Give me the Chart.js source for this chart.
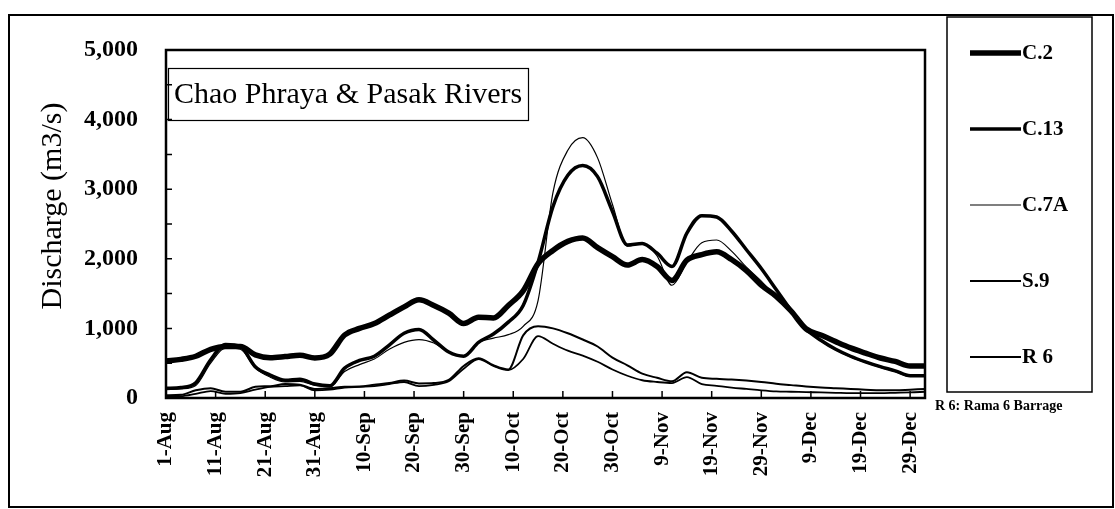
<!DOCTYPE html>
<html>
<head>
<meta charset="utf-8">
<script src="https://cdn.jsdelivr.net/npm/chart.js@4.4.1/dist/chart.umd.min.js"></script>
<style>
  html, body { margin: 0; padding: 0; background: #fff; }
  #wrap { width: 1115px; height: 509px; }
</style>
</head>
<body>
<div id="wrap"><canvas id="dischargeChart" width="1115" height="509"></canvas></div>
<script>
// Day number counted from 1-Aug (0) to 31-Dec (153)
const days = [0, 3, 6, 9, 12, 15, 18, 21, 24, 27, 30, 33, 36, 39, 42, 45, 48, 51, 54, 57,
    60, 63, 66, 69, 72, 75, 78, 81, 84, 87, 90, 93, 96, 99, 102, 105, 108, 111, 114, 117,
    120, 123, 126, 129, 132, 135, 138, 141, 144, 147, 150, 153];

const xTickLabels = ['1-Aug', '11-Aug', '21-Aug', '31-Aug', '10-Sep', '20-Sep', '30-Sep', '10-Oct',
    '20-Oct', '30-Oct', '9-Nov', '19-Nov', '29-Nov', '9-Dec', '19-Dec', '29-Dec'];

const seriesNames = ['C.2', 'C.13', 'C.7A', 'S.9', 'R 6'];

// Discharge (m3/s)
const c2 = [530, 555, 600, 700, 740, 740, 620, 580, 595, 615,
    575, 630, 905, 1000, 1070, 1190, 1310, 1410, 1330, 1220,
    1070, 1160, 1150, 1330, 1540, 1930, 2120, 2250, 2300, 2160,
    2030, 1910, 1990, 1890, 1690, 1980, 2060, 2100, 1990, 1830,
    1620, 1460, 1250, 995, 905, 810, 720, 645, 575, 525,
    460, 460];
const c13 = [140, 150, 220, 550, 770, 740, 450, 330, 255, 270,
    200, 175, 430, 540, 600, 760, 930, 985, 830, 660,
    600, 800, 920, 1090, 1330, 1950, 2750, 3200, 3340, 3180,
    2680, 2200, 2220, 2080, 1890, 2370, 2620, 2600, 2400, 2130,
    1860, 1560, 1260, 990, 830, 700, 600, 520, 450, 390,
    320, 320];
const c7a = [120, 130, 180, 500, 720, 700, 430, 300, 230, 240,
    180, 160, 380, 480, 560, 700, 800, 840, 790, 660,
    610, 800, 860, 910, 1030, 1400, 2950, 3560, 3740, 3450,
    2780, 2180, 2220, 2040, 1620, 1950, 2230, 2270, 2110, 1880,
    1680, 1450, 1220, 990, 820, 690, 590, 510, 440, 380,
    310, 310];
const s9 = [40, 45, 110, 140, 90, 90, 160, 170, 200, 190,
    130, 140, 160, 165, 190, 215, 250, 210, 215, 260,
    460, 570, 470, 410, 900, 1030, 1000, 930, 840, 740,
    580, 470, 350, 290, 240, 370, 290, 275, 265, 250,
    230, 205, 185, 165, 150, 140, 130, 120, 110, 110,
    120, 130];
const r6 = [20, 25, 60, 100, 60, 70, 120, 160, 170, 180,
    110, 120, 150, 160, 170, 200, 230, 170, 190, 240,
    420, 560, 460, 400, 560, 890, 780, 680, 610, 520,
    410, 320, 255, 230, 215, 300, 200, 175, 150, 130,
    110, 95, 90, 85, 80, 75, 70, 70, 70, 75,
    80, 90];

const seriesValues = [c2, c13, c7a, s9, r6];
const lineWidths = [5.5, 3.5, 1.2, 2, 1.8];

const serif = "'Liberation Serif', 'Times New Roman', serif";

// Frame, inward ticks, axis title, title box and legend box
const decorations = {
    id: 'decorations',
    afterDraw(chart) {
        const ctx = chart.ctx;
        const area = chart.chartArea;
        const xScale = chart.scales.x;
        const yScale = chart.scales.y;
        ctx.save();
        ctx.strokeStyle = '#000';
        ctx.fillStyle = '#000';

        // outer frame
        ctx.lineWidth = 2;
        ctx.strokeRect(9, 15, 1104, 492);

        // plot frame
        ctx.lineWidth = 2.5;
        ctx.strokeRect(area.left, area.top, area.right - area.left, area.bottom - area.top);

        // inward tick marks
        ctx.lineWidth = 1.5;
        ctx.beginPath();
        for (let v = 500; v < 5000; v += 500) {
            const y = yScale.getPixelForValue(v);
            ctx.moveTo(area.left, y);
            ctx.lineTo(area.left + 6, y);
        }
        xTickLabels.forEach((_, i) => {
            const x = xScale.getPixelForValue(i * 10);
            ctx.moveTo(x, area.bottom);
            ctx.lineTo(x, area.bottom - 7);
        });
        ctx.stroke();

        // y axis title
        ctx.save();
        ctx.translate(53, 206);
        ctx.rotate(-Math.PI / 2);
        ctx.font = '30px ' + serif;
        ctx.textAlign = 'center';
        ctx.textBaseline = 'middle';
        ctx.fillText('Discharge (m3/s)', 0, 0);
        ctx.restore();

        // title box
        ctx.lineWidth = 1.2;
        ctx.strokeRect(168.5, 68.5, 360, 52);
        ctx.font = '30px ' + serif;
        ctx.textBaseline = 'middle';
        ctx.textAlign = 'left';
        ctx.fillText('Chao Phraya & Pasak Rivers', 174, 95);

        // legend box
        ctx.lineWidth = 1.5;
        ctx.strokeRect(947, 17, 145, 375);
        chart.data.datasets.forEach((ds, i) => {
            const y = 53 + i * 76;
            ctx.lineWidth = ds.borderWidth;
            ctx.beginPath();
            ctx.moveTo(970, y);
            ctx.lineTo(1021, y);
            ctx.stroke();
            ctx.font = 'bold 21px ' + serif;
            ctx.fillText(ds.label, 1022, y + 1);
        });

        ctx.font = 'bold 14px ' + serif;
        ctx.fillText('R 6: Rama 6 Barrage', 935, 406);
        ctx.restore();
    }
};

const datasets = seriesNames.map((name, i) => ({
    label: name,
    data: days.map((d, j) => ({ x: d, y: seriesValues[i][j] })),
    borderColor: '#000',
    borderWidth: lineWidths[i],
    pointRadius: 0,
    fill: false,
    cubicInterpolationMode: 'monotone'
}));

new Chart(document.getElementById('dischargeChart'), {
    type: 'line',
    data: { datasets: datasets },
    options: {
        responsive: false,
        animation: false,
        layout: { padding: { left: 32, top: 50, right: 190, bottom: 0 } },
        scales: {
            x: {
                type: 'linear',
                min: 0,
                max: 153,
                afterBuildTicks: (scale) => {
                    scale.ticks = xTickLabels.map((_, i) => ({ value: i * 10 }));
                },
                afterFit: (scale) => { scale.height = 111; },
                grid: { display: false, drawTicks: false },
                border: { display: false },
                ticks: {
                    autoSkip: false,
                    minRotation: 90,
                    maxRotation: 90,
                    padding: 14,
                    color: '#000',
                    font: { family: serif, size: 21, weight: 'bold' },
                    callback: (value, index) => xTickLabels[index]
                }
            },
            y: {
                min: 0,
                max: 5000,
                afterFit: (scale) => { scale.width = 134; },
                grid: { display: false, drawTicks: false },
                border: { display: false },
                ticks: {
                    stepSize: 1000,
                    padding: 28,
                    color: '#000',
                    font: { family: serif, size: 24, weight: 'bold' },
                    callback: (value) => value.toLocaleString('en-US')
                }
            }
        },
        plugins: {
            legend: { display: false },
            tooltip: { enabled: false }
        }
    },
    plugins: [decorations]
});
</script>
</body>
</html>
